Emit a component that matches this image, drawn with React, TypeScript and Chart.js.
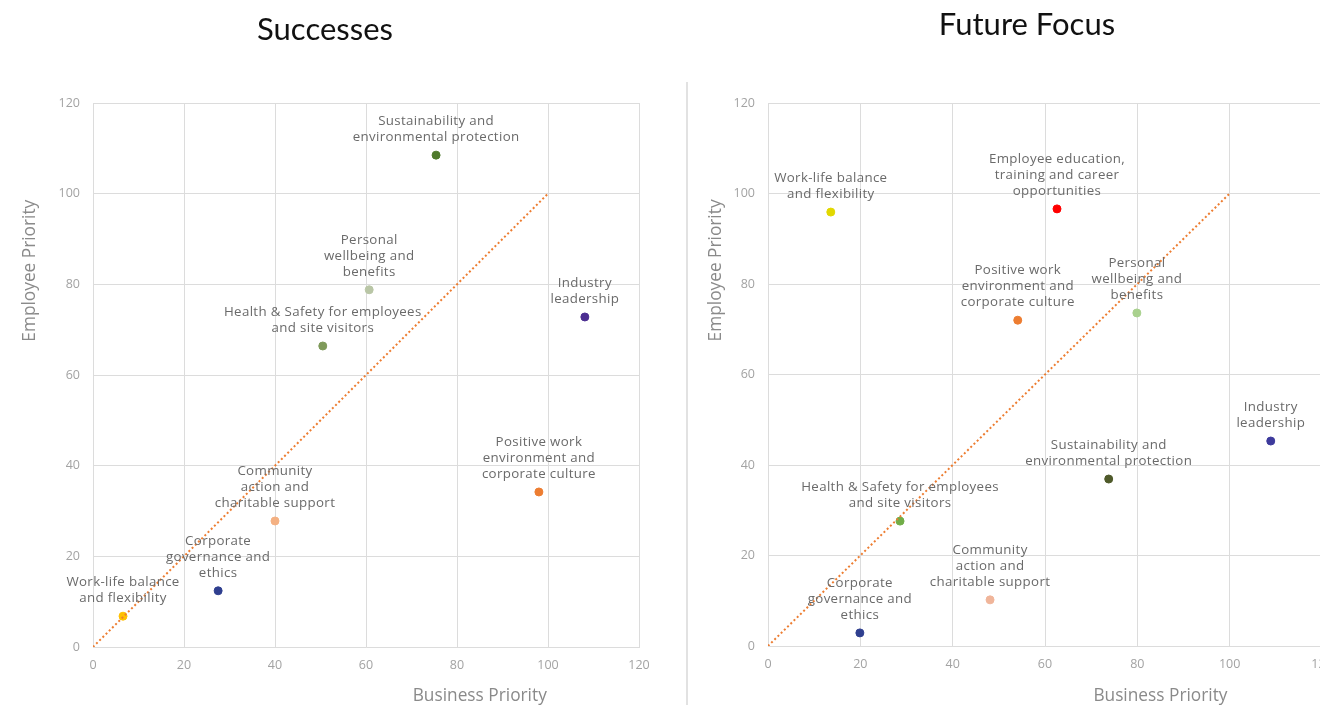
import React, { useEffect, useRef } from "react";
import { Chart, registerables } from "chart.js";
Chart.register(...registerables);

// ---- data ----
const categories = [
  "Work-life balance and flexibility",
  "Corporate governance and ethics",
  "Community action and charitable support",
  "Health & Safety for employees and site visitors",
  "Personal wellbeing and benefits",
  "Sustainability and environmental protection",
  "Industry leadership",
  "Positive work environment and corporate culture",
  "Employee education, training and career opportunities",
];
const categoryLines = [
  ["Work-life balance", "and flexibility"],
  ["Corporate", "governance and", "ethics"],
  ["Community", "action and", "charitable support"],
  ["Health & Safety for employees", "and site visitors"],
  ["Personal", "wellbeing and", "benefits"],
  ["Sustainability and", "environmental protection"],
  ["Industry", "leadership"],
  ["Positive work", "environment and", "corporate culture"],
  ["Employee education,", "training and career", "opportunities"],
];

const successesBusiness = [6.6, 27.5, 40, 50.5, 60.7, 75.4, 108.1, 98, null];
const successesEmployee = [6.8, 12.4, 27.8, 66.4, 78.8, 108.5, 72.8, 34.2, null];
const successesColors = ["#ffc000", "#2f3f8f", "#f4b183", "#7f9a5a", "#b9c6a6", "#4f7a2c", "#4b2e91", "#ed7d31", "#ff0000"];

const futureBusiness = [13.6, 19.9, 48.1, 28.6, 79.9, 73.8, 108.9, 54.1, 62.6];
const futureEmployee = [95.9, 2.9, 10.2, 27.6, 73.6, 36.9, 45.3, 72.0, 96.6];
const futureColors = ["#e2d800", "#2f3f8f", "#f0b59a", "#70ad47", "#a9d18e", "#4f5a2a", "#3d3a9c", "#ed7d31", "#ff0000"];

const parityX = [0, 100];
const parityY = [0, 100];

const axisTicks = [0, 20, 40, 60, 80, 100, 120];
const xAxisTitle = "Business Priority";
const yAxisTitle = "Employee Priority";

const LABEL_FONT = "13.3px 'Open Sans', sans-serif";
const LABEL_COLOR = "#6a6a6a";

const pointLabelPlugin = {
  id: "pointLabels",
  afterDatasetsDraw(chart: any) {
    const ctx = chart.ctx;
    const meta = chart.getDatasetMeta(1);
    const ds = chart.data.datasets[1];
    ctx.save();
    ctx.font = LABEL_FONT;
    (ctx as any).letterSpacing = "0.35px";
    ctx.fillStyle = LABEL_COLOR;
    ctx.textAlign = "center";
    ctx.textBaseline = "middle";
    meta.data.forEach((el: any, i: number) => {
      const lines: string[] = ds.labelLines[i];
      const n = lines.length;
      lines.forEach((line, k) => {
        ctx.fillText(line, el.x, el.y - 18 - (n - 1 - k) * 16);
      });
    });
    ctx.restore();
  },
};

const axisTitlePlugin = {
  id: "axisTitles",
  afterDraw(chart: any, _args: any, opts: any) {
    const ctx = chart.ctx;
    const xs = chart.scales.x;
    const ys = chart.scales.y;
    ctx.save();
    ctx.font = "17.3px 'Open Sans', sans-serif";
    ctx.fillStyle = "#8a8a8a";
    ctx.textAlign = "center";
    ctx.textBaseline = "middle";
    ctx.fillText(xAxisTitle, xs.getPixelForValue(opts.xAt), opts.xTitleY);
    ctx.translate(opts.yTitleX, ys.getPixelForValue(opts.yAt));
    ctx.rotate(-Math.PI / 2);
    ctx.fillText(yAxisTitle, 0, 0);
    ctx.restore();
  },
};

function Scatter(props: {
  xs: (number | null)[];
  ys: (number | null)[];
  colors: string[];
  yWidth: number;
  xHeight: number;
  padRight: number;
  yTitleX: number;
}) {
  const ref = useRef<HTMLCanvasElement>(null);
  useEffect(() => {
    const pts: any[] = [];
    const cols: string[] = [];
    const lines: string[][] = [];
    props.xs.forEach((x, i) => {
      const y = props.ys[i];
      if (x === null || y === null) return;
      pts.push({ x, y, name: categories[i] });
      cols.push(props.colors[i]);
      lines.push(categoryLines[i]);
    });
    const gridColor = "#dcdcdc";
    const chart = new Chart(ref.current!, {
      type: "scatter",
      data: {
        datasets: [
          {
            type: "line",
            data: parityX.map((x, i) => ({ x, y: parityY[i] })),
            borderColor: "#ed7d31",
            borderWidth: 2,
            borderDash: [2, 2.5],
            pointRadius: 0,
            fill: false,
          } as any,
          {
            data: pts,
            backgroundColor: cols,
            borderColor: cols,
            pointRadius: 4,
            pointHoverRadius: 4,
            labelLines: lines,
          } as any,
        ],
      },
      options: {
        responsive: false,
        animation: false,
        devicePixelRatio: 1,
        layout: { padding: { top: 103, left: 0, right: props.padRight, bottom: 0 } },
        plugins: {
          legend: { display: false },
          tooltip: { enabled: false },
          axisTitles: { xAt: 85, yAt: 83, xTitleY: 696, yTitleX: props.yTitleX },
        } as any,
        scales: {
          x: {
            type: "linear",
            min: 0,
            max: 120,
            afterBuildTicks: (s: any) => {
              s.ticks = axisTicks.map((v) => ({ value: v }));
            },
            afterFit: (s: any) => {
              s.height = props.xHeight;
            },
            grid: { color: gridColor, drawTicks: false, lineWidth: 1 },
            border: { color: gridColor },
            ticks: { color: "#a3a3a3", font: { family: "'Open Sans', sans-serif", size: 12.5 }, padding: 11 },
          },
          y: {
            type: "linear",
            min: 0,
            max: 120,
            afterBuildTicks: (s: any) => {
              s.ticks = axisTicks.map((v) => ({ value: v }));
            },
            afterFit: (s: any) => {
              s.width = props.yWidth;
            },
            grid: { color: gridColor, drawTicks: false, lineWidth: 1 },
            border: { color: gridColor },
            ticks: { color: "#a3a3a3", font: { family: "'Open Sans', sans-serif", size: 12.5 }, padding: 13 },
          },
        },
      },
      plugins: [pointLabelPlugin, axisTitlePlugin],
    });
    return () => chart.destroy();
  }, []);
  return <canvas ref={ref} width={680} height={705} style={{ width: 680, height: 705, display: "block" }} />;
}

export default function App() {
  const titleStyle: React.CSSProperties = {
    position: "absolute",
    fontFamily: "Lato, sans-serif",
    fontSize: 31,
    fontWeight: 400,
    color: "#111",
    transform: "translateX(-50%)",
    whiteSpace: "nowrap",
    lineHeight: "34px",
  };
  return (
    <div
      style={{
        position: "fixed",
        left: 0,
        top: 0,
        width: 1320,
        height: 705,
        overflow: "hidden",
        background: "#fff",
      }}
    >
      <div style={{ position: "absolute", left: 0, top: 0 }}>
        <Scatter xs={successesBusiness} ys={successesEmployee} colors={successesColors} yWidth={93} xHeight={58} padRight={41} yTitleX={30} />
      </div>
      <div style={{ position: "absolute", left: 680, top: 0 }}>
        <Scatter xs={futureBusiness} ys={futureEmployee} colors={futureColors} yWidth={88} xHeight={59} padRight={38} yTitleX={36} />
      </div>
      <div style={{ position: "absolute", left: 686, top: 82, width: 2, height: 623, background: "#e2e2e2" }} />
      <div style={{ ...titleStyle, left: 325, top: 11 }}>Successes</div>
      <div style={{ ...titleStyle, left: 1027, top: 6 }}>Future Focus</div>
    </div>
  );
}
